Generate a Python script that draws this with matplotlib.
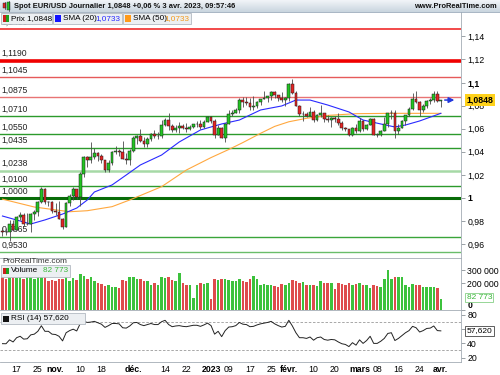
import numpy as np
import matplotlib
matplotlib.use('Agg')
import matplotlib.pyplot as plt
from matplotlib import font_manager
from matplotlib.patches import Rectangle
from matplotlib.lines import Line2D
from matplotlib.colors import LinearSegmentedColormap
from matplotlib.transforms import blended_transform_factory

# ---- data (EUR/USD daily, 11 Oct 2022 -> 3 Apr 2023, one entry per weekday) ----
opens = [0.9713, 0.9705, 0.9703, 0.9779,
         0.9725, 0.9838, 0.9856, 0.9774, 0.9779,
         0.9861, 0.9878, 0.9966, 1.0077, 0.9965,
         0.9964, 0.9884, 0.9876, 0.9820, 0.9750,
         0.9960, 1.0019, 1.0074, 1.0012, 1.0210,
         1.0355, 1.0325, 1.0353, 1.0392, 1.0362,
         1.0325, 1.0242, 1.0305, 1.0396, 1.0408,
         1.0398, 1.0337, 1.0330, 1.0405, 1.0522,
         1.0536, 1.0491, 1.0467, 1.0508, 1.0557,
         1.0534, 1.0537, 1.0630, 1.0678, 1.0627,
         1.0585, 1.0608, 1.0626, 1.0606, 1.0595,
         1.0617, 1.0637, 1.0640, 1.0612, 1.0661,
         1.0705, 1.0669, 1.0547, 1.0605, 1.0521,
         1.0644, 1.0730, 1.0736, 1.0762, 1.0851,
         1.0828, 1.0820, 1.0788, 1.0797, 1.0830,
         1.0856, 1.0870, 1.0885, 1.0915, 1.0890,
         1.0868, 1.0849, 1.0863, 1.0990, 1.0910,
         1.0795, 1.0727, 1.0727, 1.0713, 1.0741,
         1.0679, 1.0722, 1.0738, 1.0688, 1.0676,
         1.0693, 1.0686, 1.0646, 1.0604, 1.0596,
         1.0545, 1.0607, 1.0576, 1.0667, 1.0597,
         1.0636, 1.0684, 1.0548, 1.0545, 1.0582,
         1.0640, 1.0732, 1.0734, 1.0577, 1.0609,
         1.0670, 1.0717, 1.0769, 1.0853, 1.0830,
         1.0760, 1.0798, 1.0843, 1.0845, 1.0904,
         1.0839]
highs = [0.9748, 0.9740, 0.9808, 0.9806,
         0.9848, 0.9876, 0.9867, 0.9872, 0.9871,
         0.9898, 0.9977, 1.0094, 1.0088, 0.9976,
         0.9970, 0.9954, 0.9976, 0.9826, 0.9967,
         1.0033, 1.0096, 1.0081, 1.0222, 1.0365,
         1.0364, 1.0481, 1.0435, 1.0394, 1.0380,
         1.0331, 1.0330, 1.0408, 1.0448, 1.0424,
         1.0497, 1.0393, 1.0421, 1.0534, 1.0545,
         1.0595, 1.0527, 1.0530, 1.0563, 1.0589,
         1.0569, 1.0673, 1.0695, 1.0737, 1.0643,
         1.0636, 1.0658, 1.0639, 1.0646, 1.0634,
         1.0643, 1.0668, 1.0674, 1.0672, 1.0714,
         1.0712, 1.0683, 1.0634, 1.0615, 1.0646,
         1.0760, 1.0760, 1.0775, 1.0867, 1.0873,
         1.0874, 1.0867, 1.0887, 1.0844, 1.0860,
         1.0927, 1.0887, 1.0930, 1.0929, 1.0895,
         1.0915, 1.0874, 1.1000, 1.1033, 1.0925,
         1.0805, 1.0755, 1.0746, 1.0790, 1.0762,
         1.0726, 1.0805, 1.0739, 1.0716, 1.0702,
         1.0714, 1.0739, 1.0664, 1.0617, 1.0601,
         1.0615, 1.0645, 1.0691, 1.0671, 1.0637,
         1.0694, 1.0695, 1.0567, 1.0590, 1.0701,
         1.0736, 1.0760, 1.0759, 1.0638, 1.0676,
         1.0722, 1.0788, 1.0912, 1.0930, 1.0840,
         1.0810, 1.0845, 1.0865, 1.0928, 1.0925,
         1.0852]
lows = [0.9669, 0.9680, 0.9632, 0.9714,
        0.9722, 0.9808, 0.9760, 0.9765, 0.9705,
        0.9809, 0.9842, 0.9958, 0.9951, 0.9930,
        0.9872, 0.9849, 0.9815, 0.9730, 0.9748,
        0.9930, 0.9984, 0.9991, 0.9935, 1.0184,
        1.0270, 1.0305, 1.0336, 1.0319, 1.0300,
        1.0225, 1.0226, 1.0290, 1.0384, 1.0362,
        1.0335, 1.0291, 1.0289, 1.0395, 1.0468,
        1.0483, 1.0441, 1.0445, 1.0497, 1.0521,
        1.0510, 1.0523, 1.0621, 1.0593, 1.0575,
        1.0573, 1.0566, 1.0596, 1.0573, 1.0588,
        1.0608, 1.0615, 1.0601, 1.0608, 1.0654,
        1.0653, 1.0519, 1.0545, 1.0523, 1.0484,
        1.0643, 1.0714, 1.0732, 1.0738, 1.0786,
        1.0802, 1.0766, 1.0766, 1.0780, 1.0805,
        1.0855, 1.0834, 1.0848, 1.0864, 1.0836,
        1.0835, 1.0800, 1.0844, 1.0903, 1.0795,
        1.0710, 1.0669, 1.0701, 1.0706, 1.0655,
        1.0665, 1.0701, 1.0658, 1.0660, 1.0613,
        1.0660, 1.0636, 1.0589, 1.0577, 1.0536,
        1.0533, 1.0567, 1.0573, 1.0578, 1.0587,
        1.0633, 1.0548, 1.0524, 1.0535, 1.0578,
        1.0615, 1.0683, 1.0516, 1.0551, 1.0604,
        1.0632, 1.0711, 1.0761, 1.0820, 1.0713,
        1.0747, 1.0776, 1.0817, 1.0832, 1.0830,
        1.0788]
closes = [0.9705, 0.9703, 0.9779, 0.9722,
          0.9838, 0.9856, 0.9774, 0.9779, 0.9861,
          0.9878, 0.9966, 1.0077, 0.9965, 0.9964,
          0.9884, 0.9876, 0.9820, 0.9750, 0.9960,
          1.0019, 1.0074, 1.0012, 1.0210, 1.0355,
          1.0325, 1.0353, 1.0392, 1.0362, 1.0325,
          1.0242, 1.0305, 1.0396, 1.0408, 1.0398,
          1.0337, 1.0330, 1.0405, 1.0522, 1.0536,
          1.0491, 1.0467, 1.0508, 1.0557, 1.0534,
          1.0537, 1.0630, 1.0678, 1.0627, 1.0585,
          1.0608, 1.0626, 1.0606, 1.0595, 1.0617,
          1.0637, 1.0640, 1.0612, 1.0661, 1.0705,
          1.0669, 1.0547, 1.0605, 1.0521, 1.0644,
          1.0730, 1.0736, 1.0762, 1.0851, 1.0828,
          1.0820, 1.0788, 1.0797, 1.0830, 1.0856,
          1.0870, 1.0885, 1.0915, 1.0890, 1.0868,
          1.0849, 1.0863, 1.0990, 1.0910, 1.0795,
          1.0727, 1.0727, 1.0713, 1.0741, 1.0679,
          1.0722, 1.0738, 1.0688, 1.0676, 1.0693,
          1.0686, 1.0646, 1.0604, 1.0596, 1.0545,
          1.0607, 1.0576, 1.0667, 1.0597, 1.0636,
          1.0684, 1.0548, 1.0545, 1.0582, 1.0640,
          1.0732, 1.0734, 1.0577, 1.0609, 1.0670,
          1.0717, 1.0769, 1.0853, 1.0830, 1.0760,
          1.0798, 1.0843, 1.0845, 1.0904, 1.0839,
          1.0848]

# tick volume, in thousands
volume_k = [250, 235, 275, 255,
            240, 250, 230, 245, 265,
            230, 245, 260, 265, 215,
            225, 220, 230, 235, 250,
            215, 240, 225, 270, 255,
            235, 250, 215, 200, 195,
            180, 190, 170, 175, 165,
            225, 220, 245, 250, 230,
            235, 220, 215, 190, 205,
            190, 250, 240, 245, 225,
            215, 280, 200, 190, 185,
            90, 190, 200, 195, 200,
            85, 235, 225, 230, 235,
            225, 215, 220, 235, 220,
            210, 230, 255, 235, 190,
            195, 185, 190, 180, 175,
            195, 190, 205, 225, 215,
            200, 210, 185, 185, 185,
            180, 215, 200, 205, 200,
            160, 205, 195, 190, 200,
            185, 195, 200, 190, 185,
            165, 190, 180, 175, 235,
            300, 235, 250, 250, 245,
            190, 170, 195, 190, 185,
            175, 170, 170, 170, 165,
            82.773]

rsi = [39.6, 39.5, 45.0, 42.0,
       48.0, 50.0, 46.0, 46.5, 52.0,
       53.0, 57.0, 64.8, 57.0, 57.0,
       53.0, 52.5, 50.0, 43.5, 55.0,
       58.0, 60.0, 57.5, 68.0, 71.0,
       69.5, 70.0, 71.0, 69.0, 67.0,
       62.5, 65.0, 68.0, 68.0, 67.5,
       62.0, 61.5, 64.5, 69.0, 69.5,
       66.5, 65.0, 66.5, 68.0, 66.5,
       66.5, 70.5, 72.5, 66.5, 63.5,
       64.5, 65.0, 64.0, 63.5, 64.5,
       65.5, 65.5, 64.0, 66.0, 68.5,
       65.0, 53.0, 57.0, 49.5, 58.0,
       63.0, 63.5, 65.0, 69.5, 67.0,
       66.5, 63.5, 64.0, 66.0, 67.5,
       68.5, 69.5, 71.0, 67.5, 65.0,
       63.0, 64.0, 72.5, 64.5, 55.0,
       48.0, 48.0, 47.0, 49.0, 44.5,
       48.0, 49.0, 45.5, 44.5, 45.5,
       45.0, 42.0, 39.5, 38.5, 35.5,
       41.0, 37.5, 45.0, 40.0, 44.0,
       50.0, 40.0, 40.0, 43.0, 47.0,
       54.0, 55.0, 44.0, 47.0, 51.0,
       55.0, 58.0, 64.0, 62.0, 56.0,
       58.0, 61.0, 61.5, 64.5, 58.0,
       57.62]

# moving averages (candle index, value)
sma20_idx = [0, 8, 12, 17, 21, 24, 26, 31, 35, 39, 45, 50, 56, 62, 67, 73, 79, 83, 87, 92, 98, 102, 107, 111, 114, 118, 124]
sma20_val = [0.9844, 0.9775, 0.9810, 0.9861, 0.9913, 0.9983, 1.0052, 1.0113, 1.0199, 1.0286, 1.0372,
             1.0485, 1.0589, 1.0641, 1.0675, 1.0762, 1.0797, 1.0848, 1.0848, 1.0805, 1.0745, 1.0675,
             1.0641, 1.0615, 1.0632, 1.0667, 1.0733]
sma50_idx = [0, 9, 19, 24, 31, 36, 45, 52, 59, 64, 68, 73, 77, 81, 86, 92, 100, 110, 124]
sma50_val = [0.9990, 0.9922, 0.9881, 0.9890, 0.9925, 0.9983, 1.0098, 1.0242, 1.0350, 1.0420, 1.0480,
             1.0560, 1.0620, 1.0660, 1.0690, 1.0715, 1.0730, 1.0733, 1.0733]

levels = [1.1460, 1.1190, 1.1045, 1.0875, 1.0710, 1.0550, 1.0435, 1.0238, 1.0100, 1.0000, 0.9665, 0.9530]
level_labels = ['1,1460', '1,1190', '1,1045', '1,0875', '1,0710', '1,0550', '1,0435',
                '1,0238', '1,0100', '1,0000', '0,9665', '0,9530']

price_ticks = [0.96, 0.98, 1.00, 1.02, 1.04, 1.06, 1.08, 1.10, 1.12, 1.14]
price_tick_labels = ['0,96', '0,98', '1', '1,02', '1,04', '1,06', '1,08', '1,1', '1,12', '1,14']

date_tick_idx = [4, 10, 15, 22, 28, 37, 46, 52, 59, 64, 70, 76, 81, 88, 94, 101, 106, 112, 118, 124]
date_tick_labels = ['17', '25', 'nov.', '10', '18', 'déc.', '14', '22', '2023', '09',
                    '17', '25', 'févr.', '10', '20', 'mars', '08', '16', '24', 'avr.']

# ---- layout helpers (pixel based, 500x375 figure) ----
W, H = 500, 375
plt.rcParams['font.family'] = ['Liberation Sans', 'DejaVu Sans']
installed = {f.name for f in font_manager.fontManager.ttflist}
NARROW = 'Liberation Sans Narrow' if 'Liberation Sans Narrow' in installed else 'Liberation Sans'
TSIZE = 6.4 if NARROW == 'Liberation Sans Narrow' else 5.4


def rect(x0, y0, x1, y1):
    return [x0 / W, 1 - y1 / H, (x1 - x0) / W, (y1 - y0) / H]


def fx(x):
    return x / W


def fy(y):
    return 1 - y / H


UP, DOWN = '#22c422', '#e42424'
AXCOL = '#a4acb4'
FS = 6.2

fig = plt.figure(figsize=(5, 3.75), dpi=100)

# title bar
tb = fig.add_axes(rect(0, 0, 500, 12))
tb.imshow(np.linspace(0, 1, 40).reshape(-1, 1), aspect='auto', extent=(0, 1, 0, 1),
          cmap=LinearSegmentedColormap.from_list('tb', ['#f2f5f8', '#c9d5df']))
tb.axis('off')
fig.add_artist(Line2D([0, 1], [fy(12), fy(12)], color='#9aaaba', lw=0.6, transform=fig.transFigure))
fig.text(fx(14), fy(6), 'Spot EUR/USD Journalier 1,0848 +0,06 % 3 avr. 2023, 09:57:46',
         fontsize=TSIZE, fontweight='bold', family=NARROW, va='center', color='#111')
fig.text(fx(497), fy(6), 'www.ProRealTime.com', fontsize=TSIZE, fontweight='bold', family=NARROW,
         va='center', ha='right', color='#111')
for xc, yb, yt, col in [(4.5, 8, 3, DOWN), (8.5, 10, 2, UP)]:
    fig.add_artist(Line2D([fx(xc), fx(xc)], [fy(yb + 1), fy(yt - 1)], color='#333', lw=0.5,
                          transform=fig.transFigure))
    fig.add_artist(Rectangle((fx(xc - 1.5), fy(yb)), 3 / W, (yb - yt) / H, transform=fig.transFigure,
                             fc=col, ec='#222', lw=0.3))

# ---- price panel ----
ax = fig.add_axes(rect(0, 12, 461, 258))
x = np.arange(len(closes))
o, h, l, c = map(np.array, (opens, highs, lows, closes))
up = c >= o
cols = np.where(up, UP, DOWN)

styles = [('#f24a4a', 1.4), ('#f00000', 2.6), ('#e65a5a', 1.0), ('#e87474', 1.0),
          ('#2c9a2c', 1.0), ('#2c9a2c', 1.0), ('#2c9a2c', 1.0), ('#a6d9a6', 1.8),
          ('#2c9a2c', 1.0), ('#086c08', 2.2), ('#3aa53a', 1.0), ('#6abd6a', 1.0)]
for lev, lab, (col, lw) in zip(levels, level_labels, styles):
    ax.axhline(lev, color=col, lw=lw, zorder=1)
    ax.annotate(lab, xy=(0.004, lev), xycoords=('axes fraction', 'data'), xytext=(0, 1.8),
                textcoords='offset points', fontsize=FS, va='bottom', ha='left', color='#222', zorder=2)

ax.plot(sma50_idx, sma50_val, color='#ffa83f', lw=0.8, zorder=3)
ax.plot(sma20_idx, sma20_val, color='#2a2aff', lw=0.8, zorder=3)

ax.vlines(x, l, h, color='#4a4a4a', lw=0.6, zorder=4)
ax.bar(x, np.maximum(np.abs(c - o), 0.00008), bottom=np.minimum(o, c), width=0.78,
       color=cols, edgecolor='#1a1a1a', linewidth=0.35, zorder=5)

ax.annotate('', xy=(128.6, closes[-1]), xytext=(124.3, closes[-1]),
            arrowprops=dict(arrowstyle='-|>', color='#2238dd', lw=1.1, mutation_scale=8), zorder=6)

ax.set_xlim(-0.7, 129.7)
ax.set_ylim(0.94805, 1.16104)
ax.yaxis.tick_right()
ax.set_yticks(price_ticks)
ax.set_yticklabels(price_tick_labels)
ax.tick_params(axis='y', length=3, width=0.6, color='#8a9298', labelsize=6.3, pad=1.5)
for t in ax.get_yticklabels():
    if t.get_text() in ('1', '1,1'):
        t.set_fontweight('bold')
for s in ('left', 'top'):
    ax.spines[s].set_visible(False)
for s in ('right', 'bottom'):
    ax.spines[s].set_color(AXCOL)
    ax.spines[s].set_linewidth(0.6)
bt = blended_transform_factory(ax.transAxes, ax.transData)
ax.text(1.012, closes[-1], '1,0848', transform=bt, fontsize=6.3, fontweight='bold', va='center',
        ha='left', clip_on=False, zorder=10,
        bbox=dict(boxstyle='square,pad=0.2', fc='#ffd21a', ec='none'))

# legend boxes over the price panel


def legend_box(x0, y0, x1, y1):
    fig.add_artist(Rectangle((fx(x0), fy(y1)), (x1 - x0) / W, (y1 - y0) / H, transform=fig.transFigure,
                             fc='#eceff2', ec='#b3bac2', lw=0.6, zorder=20))


def swatch(x0, yc, col, col2=None):
    fig.add_artist(Rectangle((fx(x0), fy(yc + 3)), 6 / W, 6 / H, transform=fig.transFigure,
                             fc=col, ec='none', zorder=21))
    if col2:
        fig.add_artist(Rectangle((fx(x0 + 3), fy(yc + 3)), 3 / W, 6 / H, transform=fig.transFigure,
                                 fc=col2, ec='none', zorder=22))


legend_box(1, 13, 52, 24)
swatch(3, 18.5, '#cc2020', '#20a020')
fig.text(fx(11), fy(18.5), 'Prix 1,0848', fontsize=5.9, va='center', zorder=23)
legend_box(53, 13, 122, 24)
swatch(55, 18.5, '#1414ff')
fig.text(fx(63), fy(18.5), 'SMA (20)', fontsize=5.9, va='center', zorder=23)
fig.text(fx(120), fy(18.5), '1,0733', fontsize=5.9, va='center', ha='right', color='#2a2aff', zorder=23)
legend_box(123, 13, 191, 24)
swatch(125, 18.5, '#ff9a1a')
fig.text(fx(133), fy(18.5), 'SMA (50)', fontsize=5.9, va='center', zorder=23)
fig.text(fx(189), fy(18.5), '1,0733', fontsize=5.9, va='center', ha='right', color='#f39a1c', zorder=23)

# ---- volume panel ----
vax = fig.add_axes(rect(0, 258, 461, 310), sharex=ax)
vol = np.array(volume_k) * 1000
vcols = np.where(up, '#3cc23c', '#de4c4c')
vax.bar(x, vol, width=0.72, color=vcols, zorder=2)
vax.set_ylim(0, 390000)
vax.yaxis.tick_right()
vax.set_yticks([0, 200000, 300000])
vax.set_yticklabels(['0', '200 000', '300 000'])
vax.tick_params(axis='y', length=3, width=0.6, color='#8a9298', labelsize=6.3, pad=1.5)
zl = vax.get_yticklabels()[0]
zl.set_fontweight('bold')
zl.set_va('bottom')
vax.spines['left'].set_visible(False)
for s in ('right', 'bottom', 'top'):
    vax.spines[s].set_color(AXCOL)
    vax.spines[s].set_linewidth(0.6)
bv = blended_transform_factory(vax.transAxes, vax.transData)
vax.text(1.012, vol[-1] + 12000, '82 773', transform=bv, fontsize=6, color='#3cb83c', va='center', ha='left',
         clip_on=False, bbox=dict(boxstyle='square,pad=0.15', fc='white', ec='#86d086', lw=0.6))
fig.text(fx(2), fy(261.5), 'ProRealTime.com', fontsize=5.9, va='center', color='#333', zorder=23)
legend_box(1, 265, 70, 277)
swatch(3, 271, '#cc2020', '#20a020')
fig.text(fx(11), fy(271), 'Volume', fontsize=5.9, va='center', zorder=23)
fig.text(fx(68), fy(271), '82 773', fontsize=5.9, va='center', ha='right', color='#3cb83c', zorder=23)

# ---- RSI panel ----
rax = fig.add_axes(rect(0, 310, 461, 362), sharex=ax)
rax.plot(x, rsi, color='#222', lw=0.7, zorder=3)
for lv in (70, 30):
    rax.axhline(lv, color='#9a9a9a', lw=0.6, ls=(0, (3, 2)), zorder=1)
rax.set_ylim(13.8, 87)
rax.yaxis.tick_right()
rax.set_yticks([20, 40, 60, 80])
rax.set_yticklabels(['20', '40', '', '80'])
rax.tick_params(axis='y', length=3, width=0.6, color='#8a9298', labelsize=6.3, pad=1.5)
rax.set_xticks(date_tick_idx)
rax.set_xticklabels(date_tick_labels)
rax.tick_params(axis='x', length=0, labelsize=6.3, pad=2)
for t in rax.get_xticklabels():
    if not t.get_text().isdigit() or t.get_text() == '2023':
        t.set_fontweight('bold')
rax.spines['left'].set_visible(False)
for s in ('right', 'bottom', 'top'):
    rax.spines[s].set_color(AXCOL)
    rax.spines[s].set_linewidth(0.6)
br = blended_transform_factory(rax.transAxes, rax.transData)
rax.text(1.012, rsi[-1], '57,620', transform=br, fontsize=6, va='center', ha='left', clip_on=False,
         bbox=dict(boxstyle='square,pad=0.15', fc='white', ec='#444', lw=0.6))
legend_box(1, 313, 85, 324)
swatch(3, 318.5, '#111111')
fig.text(fx(11), fy(318.5), 'RSI (14) 57,620', fontsize=5.9, va='center', zorder=23)

# the shared x axis only shows its date labels under the RSI panel
ax.tick_params(axis='x', length=0, labelbottom=False)
vax.tick_params(axis='x', length=0, labelbottom=False)

fig.savefig('out.png', dpi=100)
